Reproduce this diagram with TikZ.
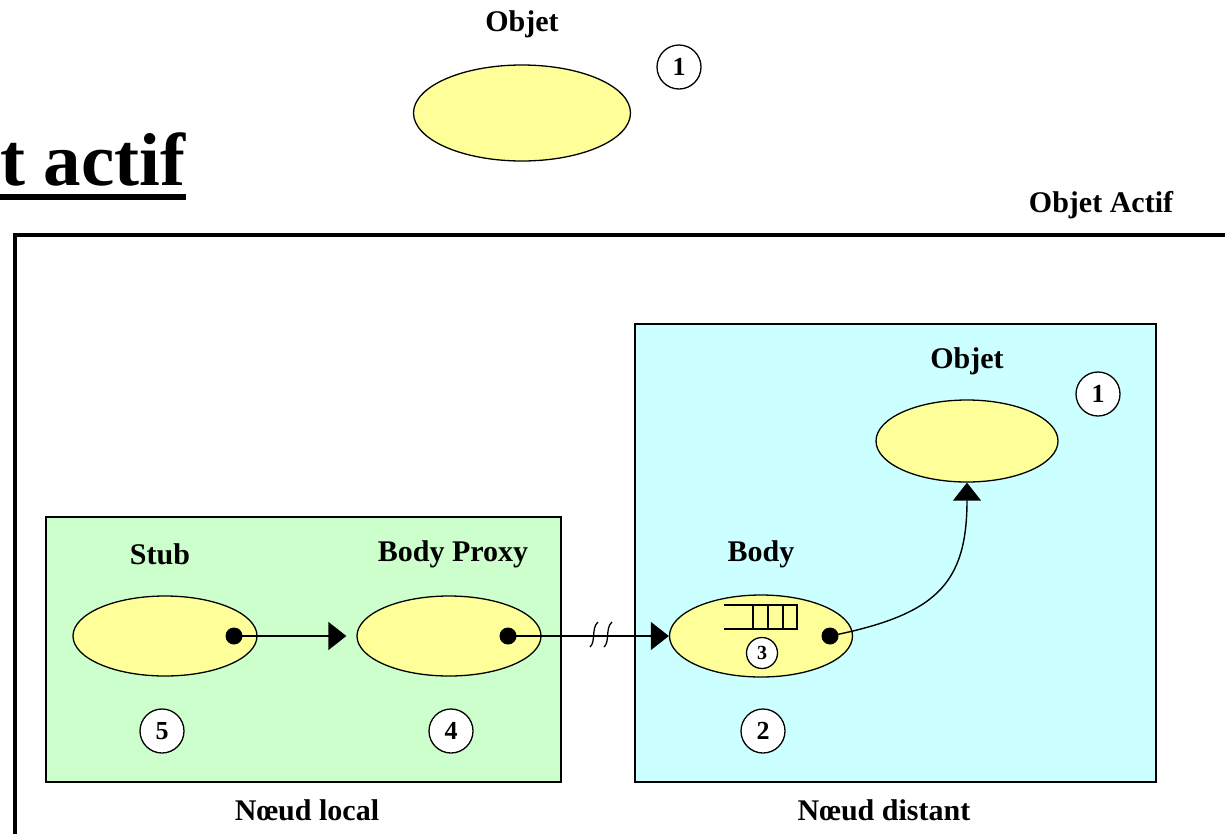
\documentclass[tikz,border=0pt]{standalone}
\usepackage{fontspec}
\setmainfont{Liberation Serif}
\usetikzlibrary{shapes.geometric,arrows.meta}

\definecolor{objyellow}{HTML}{FFFF99}
\definecolor{localgreen}{HTML}{CCFFCC}
\definecolor{remotecyan}{HTML}{CCFFFF}

\tikzset{
  obj/.style={ellipse, draw, line width=1.3pt, fill=objyellow, inner sep=0pt},
  lbl/.style={font=\fontsize{30}{36}\selectfont\bfseries, inner sep=0pt},
  num/.style={circle, draw, line width=1.3pt, fill=white, minimum size=44pt, inner sep=0pt,
              font=\fontsize{26}{30}\selectfont\bfseries},
  smallnum/.style={num, minimum size=31pt, font=\fontsize{20}{24}\selectfont\bfseries},
  dot/.style={circle, fill=black, minimum size=17pt, inner sep=0pt},
  arr/.style={line width=1.4pt, -{Triangle[length=18pt,width=28pt]}},
  nodebox/.style={draw, line width=1.6pt},
}

\begin{document}
\begin{tikzpicture}[x=1pt, y=-1pt]
\useasboundingbox (0,0) rectangle (1225,833);

% title, cut by the page edge
\node[anchor=base west, inner sep=0pt, font=\fontsize{75}{80}\selectfont\bfseries] (title) at (0,185) {t actif};
\draw[line width=6pt] ([yshift=-12pt]title.base west) -- ([yshift=-12pt]title.base east);

% passive object
\node[lbl] (objlbl) at (522,24) {Objet};
\node[obj, minimum width=217pt, minimum height=96pt] (obj) at (522,113) {};
\node[num] (n1a) at (679,67) {1};

% active object frame
\node[lbl] (actlbl) at (1101,205) {Objet Actif};
\draw[line width=3.5pt] (1226,235) -- (15,235) -- (15,834);

% local and remote nodes
\node[nodebox, fill=localgreen, minimum width=515pt, minimum height=265pt, anchor=north west, inner sep=0pt] (local) at (45,516) {};
\node[nodebox, fill=remotecyan, minimum width=521pt, minimum height=458pt, anchor=north west, inner sep=0pt] (remote) at (634,323) {};
\node[lbl] (locallbl) at (307,810) {Nœud local};
\node[lbl] (remotelbl) at (884,810) {Nœud distant};

% remote object
\node[lbl] (obj2lbl) at (967,361) {Objet};
\node[obj, minimum width=182pt, minimum height=82pt] (obj2) at (967,441) {};
\node[num] (n1b) at (1098,394) {1};

% stub, proxy and body
\node[lbl] (stublbl) at (160,554) {Stub};
\node[lbl] (proxylbl) at (453,554) {Body Proxy};
\node[lbl] (bodylbl) at (761,554) {Body};
\node[obj, minimum width=184pt, minimum height=80pt] (stub) at (165,636) {};
\node[obj, minimum width=184pt, minimum height=80pt] (proxy) at (449,636) {};
\node[obj, minimum width=183pt, minimum height=82pt] (body) at (761,636) {};

% request queue inside the body
\draw[line width=1.3pt] (724,605) -- (797,605) -- (797,629) -- (724,629);
\foreach \qx in {753,768,783} \draw[line width=1.3pt] (\qx,605) -- (\qx,629);
\node[smallnum] (n3) at (762,653) {3};

\node[num] (n5) at (162,731) {5};
\node[num] (n4) at (451,731) {4};
\node[num] (n2) at (763,731) {2};

% reference points
\node[dot] (sdot) at (234,636) {};
\node[dot] (pdot) at (508,636) {};
\node[dot] (bdot) at (830,636) {};

% calls
\draw[arr, shorten >=10pt] (sdot.center) -- (proxy.west);
\draw[arr] (pdot.center) -- (body.west);
\foreach \sx in {590,604}
  \draw[line width=1.3pt] (\sx,647) .. controls (\sx+6,642) and (\sx+1,628) .. (\sx+8,622);
\draw[arr] (bdot.center) .. controls (935,615) and (967,585) .. (obj2.south);
\end{tikzpicture}
\end{document}
